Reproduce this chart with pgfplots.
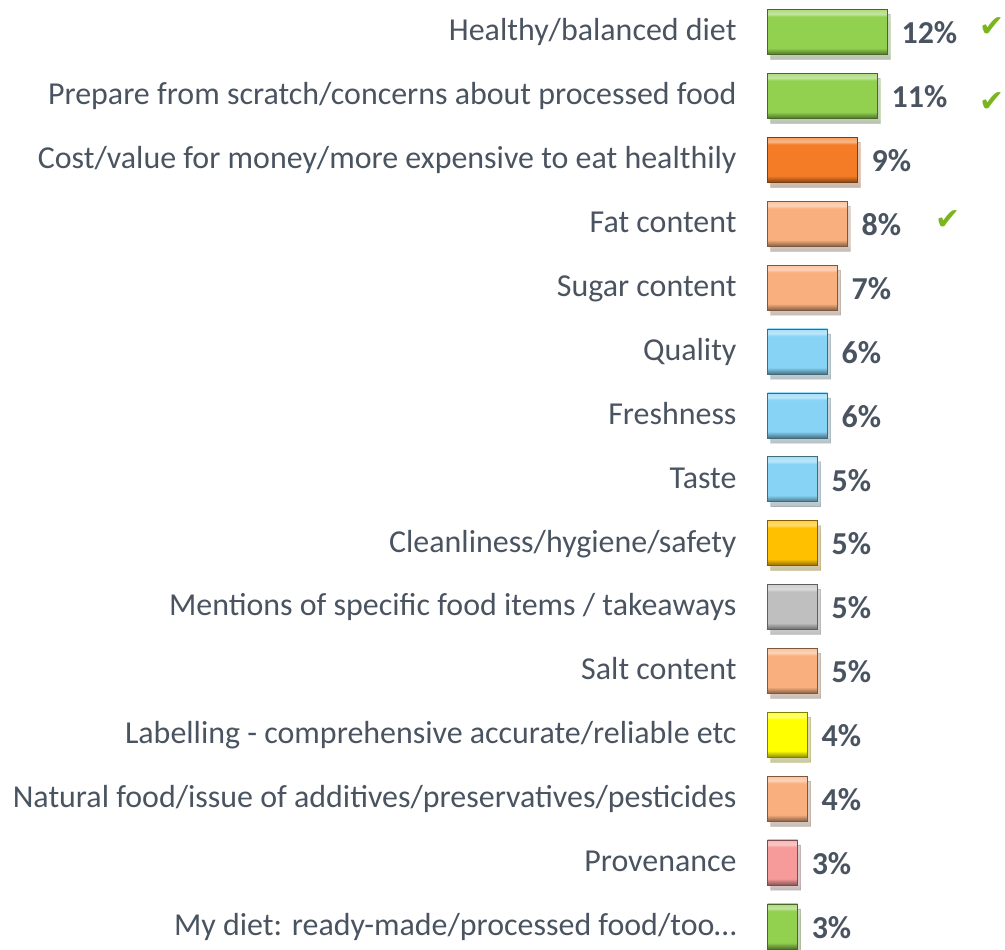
\documentclass[border=0pt]{standalone}
\usepackage{pgfplots}
\pgfplotsset{compat=1.18}
\usepackage{fontspec}
\setmainfont{Carlito}
\newfontfamily\symfont{DejaVu Sans}
\definecolor{txt}{HTML}{4A5461}
\definecolor{cgreen}{HTML}{92D050}
\definecolor{corange}{HTML}{F47C26}
\definecolor{cpeach}{HTML}{FAB07E}
\definecolor{cblue}{HTML}{86D3F5}
\definecolor{cgold}{HTML}{FFC000}
\definecolor{cgray}{HTML}{BFBFBF}
\definecolor{cyellow}{HTML}{FFFF00}
\definecolor{cpink}{HTML}{F79A9A}
\definecolor{check}{HTML}{7AB51D}
% bevel-like vertical shading for each bar colour
\newcommand\bevel[1]{%
  \pgfdeclareverticalshading{bevel-#1}{100bp}{%
    color(0bp)=(#1!55!black); color(25bp)=(#1!55!black);
    color(29bp)=(#1!80!black); color(32bp)=(#1);
    color(67bp)=(#1); color(70bp)=(#1!55!white);
    color(75bp)=(#1!75!white); color(100bp)=(#1!75!white)}}
\bevel{cgreen}\bevel{corange}\bevel{cpeach}\bevel{cblue}
\bevel{cgold}\bevel{cgray}\bevel{cyellow}\bevel{cpink}
\begin{document}
\begin{tikzpicture}
\begin{axis}[
    scale only axis, width=236pt, height=951pt,
    xmin=0, xmax=23.6, ymin=-0.5, ymax=14.36, y dir=reverse,
    axis x line=none, axis y line=left,
    y axis line style={draw=none}, major tick length=0pt,
    /pgf/number format/assume math mode=true,
    ytick={0,...,14},
    yticklabels={
        Healthy/balanced diet,
        Prepare from scratch/concerns about processed food,
        Cost/value for money/more expensive to eat healthily,
        Fat content,
        Sugar content,
        Quality,
        Freshness,
        Taste,
        Cleanliness/hygiene/safety,
        Mentions of specific food items / takeaways,
        Salt content,
        Labelling - comprehensive accurate/reliable etc,
        Natural food/issue of additives/preservatives/pesticides,
        Provenance,
        My diet: ready-made/processed food/too…},
    yticklabel style={font=\fontsize{32}{36}\selectfont, text=txt, inner sep=0pt,
        anchor=base east, xshift=-31pt, yshift=-9pt},
    clip=false,
    after end axis/.code={\path (rel axis cs:0,0) ++(-769pt,0pt);},
    mybar/.style={xbar, bar width=45pt, bar shift=0pt,
        draw=#1!50!black, shading=bevel-#1,
        preaction={fill=black, opacity=0.18, transform canvas={xshift=3pt, yshift=-5pt}},
        point meta=x,
        nodes near coords={\pgfmathprintnumber{\pgfplotspointmeta}\%},
        nodes near coords align=horizontal,
        every node near coord/.append style={font=\bfseries\fontsize{32}{36}\selectfont,
            text=txt, inner sep=0pt, xshift=14pt, yshift=-1pt}},
]
\addplot[mybar=cgreen]  coordinates {(12,0)};
\addplot[mybar=cgreen]  coordinates {(11,1)};
\addplot[mybar=corange] coordinates {(9,2)};
\addplot[mybar=cpeach]  coordinates {(8,3)};
\addplot[mybar=cpeach]  coordinates {(7,4)};
\addplot[mybar=cblue]   coordinates {(6,5)};
\addplot[mybar=cblue]   coordinates {(6,6)};
\addplot[mybar=cblue]   coordinates {(5,7)};
\addplot[mybar=cgold]   coordinates {(5,8)};
\addplot[mybar=cgray]   coordinates {(5,9)};
\addplot[mybar=cpeach]  coordinates {(5,10)};
\addplot[mybar=cyellow] coordinates {(4,11)};
\addplot[mybar=cpeach]  coordinates {(4,12)};
\addplot[mybar=cpink]   coordinates {(3,13)};
\addplot[mybar=cgreen]  coordinates {(3,14)};
\addplot[only marks, mark=text, text mark={\color{check}\symfont\fontsize{30}{30}\selectfont ✔}]
    coordinates {(22.5,-0.08) (22.5,1.1) (18.1,2.94)};
\end{axis}
\end{tikzpicture}
\end{document}
